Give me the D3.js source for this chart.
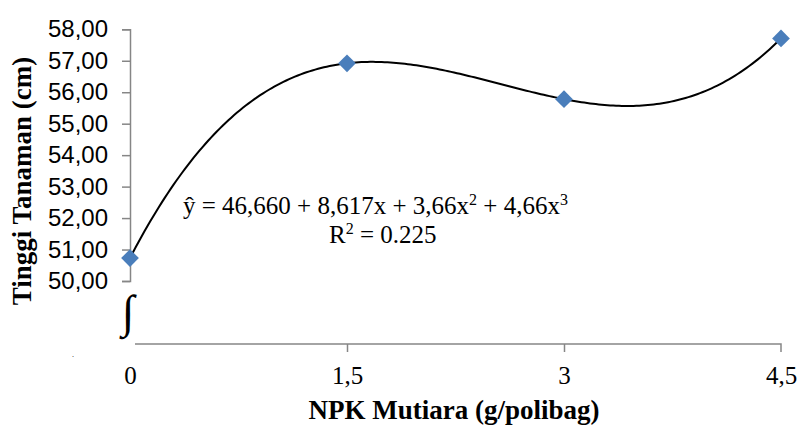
<!DOCTYPE html>
<html>
<head>
<meta charset="utf-8">
<script src="https://cdn.jsdelivr.net/npm/d3@7.9.0/dist/d3.min.js"></script>
<style>
  html, body { margin: 0; padding: 0; background: #fff; }
  svg { display: block; }
</style>
</head>
<body>
<svg id="chart" width="800" height="427"></svg>
<script>
// data
const doses = [0, 1.5, 3, 4.5];
const doseLabels = ['0', '1,5', '3', '4,5'];
const heights = [50.73, 56.92, 55.78, 57.71];
const yTicks = [50, 51, 52, 53, 54, 55, 56, 57, 58];

const svg = d3.select('#chart');
const axisColor = '#868686';
const serif = '"Liberation Serif", "Times New Roman", serif';

const x = d3.scaleLinear().domain([0, 4.5]).range([130, 781]);
const y = d3.scaleLinear().domain([50, 58]).range([281, 29.3]);
const xAxisY = 344;

// polynomial trendline (order 3), least squares on the points
function polyFit(xs, ys, order) {
  const n = order + 1;
  const A = d3.range(n).map(() => new Array(n + 1).fill(0));
  xs.forEach((xv, k) => {
    for (let i = 0; i < n; i++) {
      for (let j = 0; j < n; j++) A[i][j] += Math.pow(xv, i + j);
      A[i][n] += ys[k] * Math.pow(xv, i);
    }
  });
  for (let i = 0; i < n; i++) {
    let p = i;
    for (let r = i + 1; r < n; r++) if (Math.abs(A[r][i]) > Math.abs(A[p][i])) p = r;
    [A[i], A[p]] = [A[p], A[i]];
    for (let r = 0; r < n; r++) {
      if (r === i) continue;
      const f = A[r][i] / A[i][i];
      for (let c = i; c <= n; c++) A[r][c] -= f * A[i][c];
    }
  }
  return A.map((row, i) => row[n] / row[i]);
}
const coef = polyFit(doses, heights, 3);
const trend = (xv) => coef.reduce((s, c, i) => s + c * Math.pow(xv, i), 0);
const trendPts = d3.range(0, 4.5001, 0.02).map((xv) => [xv, trend(xv)]);

// y axis
const yAxis = d3.axisLeft(y).tickValues(yTicks).tickSize(8).tickPadding(14)
  .tickFormat((d) => d3.format('.2f')(d).replace('.', ','));
const gy = svg.append('g').attr('transform', `translate(${x(0)},0)`).call(yAxis);
gy.select('.domain').attr('stroke', axisColor).attr('stroke-width', 1.5);
gy.selectAll('.tick line').attr('stroke', axisColor).attr('stroke-width', 1.5);
gy.selectAll('.tick text')
  .attr('fill', '#000')
  .style('font-family', '"Liberation Sans", Arial, sans-serif')
  .style('font-size', '24px');

// x axis (below the axis break)
const xAxis = d3.axisBottom(x).tickValues(doses).tickSize(8).tickPadding(14)
  .tickFormat((d, i) => doseLabels[i]);
const gx = svg.append('g').attr('transform', `translate(0,${xAxisY})`).call(xAxis);
gx.select('.domain').attr('stroke', axisColor).attr('stroke-width', 1.5)
  .attr('d', `M${x(0) + 5},0H${x(4.5)}V8`);
gx.selectAll('.tick line').attr('stroke', axisColor).attr('stroke-width', 1.5)
  .attr('display', (d) => (d === 0 || d === 4.5) ? 'none' : null);
gx.selectAll('.tick text')
  .attr('fill', '#000')
  .style('font-family', serif)
  .style('font-size', '25px');

// axis break mark
svg.append('rect').attr('x', 110).attr('y', 288).attr('width', 36).attr('height', 52).attr('fill', '#fff');
svg.append('text')
  .attr('x', 128).attr('y', 327)
  .attr('text-anchor', 'middle')
  .style('font-family', serif)
  .style('font-size', '46px')
  .text('∫');
svg.append('text')
  .attr('x', 72).attr('y', 357)
  .style('font-family', serif)
  .style('font-size', '8px')
  .text('.');

// trendline
svg.append('path')
  .datum(trendPts)
  .attr('fill', 'none')
  .attr('stroke', '#000')
  .attr('stroke-width', 2)
  .attr('d', d3.line().x((d) => x(d[0])).y((d) => y(d[1])));

// markers
svg.selectAll('.pt')
  .data(doses)
  .join('path')
  .attr('class', 'pt')
  .attr('transform', (d, i) => `translate(${x(d)},${y(heights[i])})`)
  .attr('d', d3.symbol(d3.symbolDiamond2, 200))
  .attr('fill', '#4a7ebb');

// equation with superscripts
const eq = svg.append('text')
  .attr('x', 183).attr('y', 214)
  .style('font-family', serif)
  .style('font-size', '25px');
const eqParts = [['ŷ = 46,660 + 8,617x + 3,66x', false], ['2', true], [' + 4,66x', false], ['3', true]];
eqParts.forEach(([t, sup]) => {
  eq.append('tspan')
    .attr('dy', sup ? -9 : (t.startsWith(' ') ? 9 : 0))
    .style('font-size', sup ? '16px' : null)
    .text(t);
});
const r2 = svg.append('text')
  .attr('x', 329).attr('y', 243)
  .style('font-family', serif)
  .style('font-size', '25px');
r2.append('tspan').text('R');
r2.append('tspan').attr('dy', -9).style('font-size', '16px').text('2');
r2.append('tspan').attr('dy', 9).text(' = 0.225');

// axis titles
svg.append('text')
  .attr('x', 454).attr('y', 419)
  .attr('text-anchor', 'middle')
  .style('font-family', serif)
  .style('font-size', '27px')
  .style('font-weight', 'bold')
  .text('NPK Mutiara (g/polibag)');

svg.append('text')
  .attr('transform', 'translate(31,181) rotate(-90)')
  .attr('text-anchor', 'middle')
  .style('font-family', serif)
  .style('font-size', '27px')
  .style('font-weight', 'bold')
  .text('Tinggi Tanaman (cm)');
</script>
</body>
</html>
